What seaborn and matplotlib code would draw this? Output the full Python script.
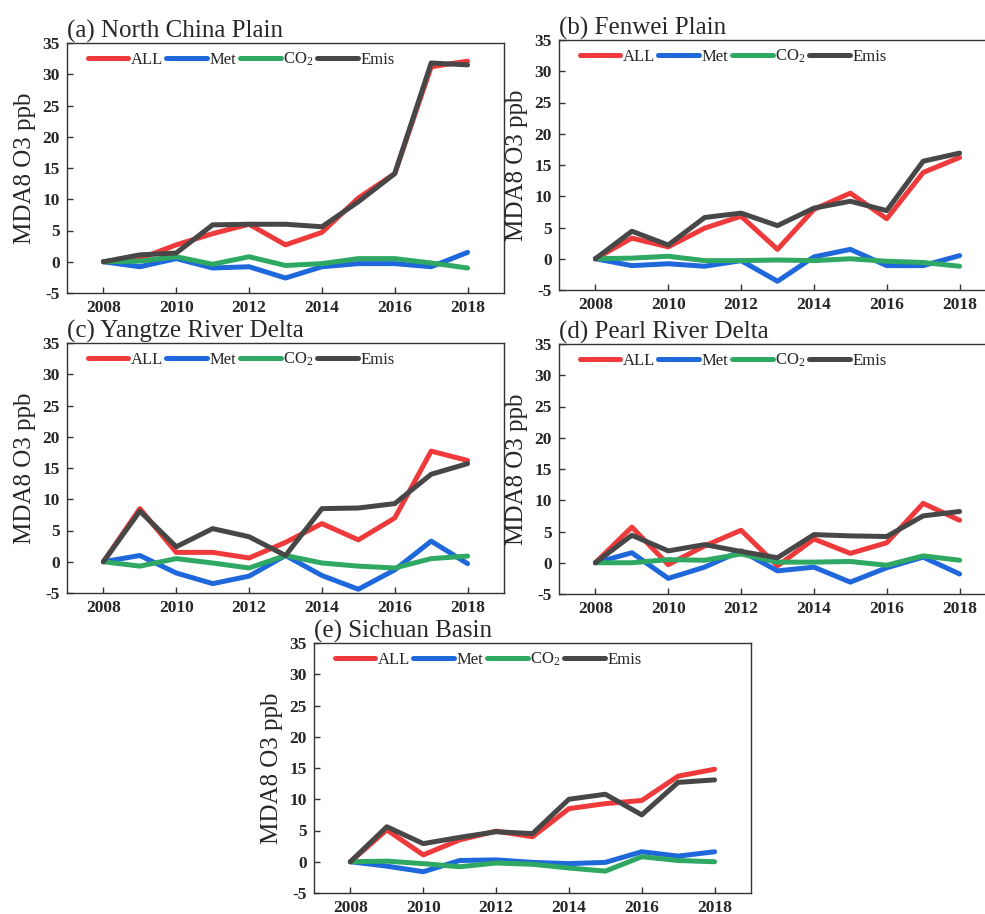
import matplotlib
matplotlib.use("Agg")
import matplotlib.pyplot as plt
import pandas as pd
import seaborn as sns

# ---- data: MDA8 O3 change relative to 2008 (ppb) ----
years = list(range(2008, 2019))
series_names = ["ALL", "Met", "CO$_2$", "Emis"]
series_colors = ["#ef3a3c", "#1e68dc", "#2ea862", "#474747"]

ncp_all = [0, 0.5, 2.7, 4.5, 6.0, 2.7, 4.7, 10.2, 14.1, 31.2, 32.1]
ncp_met = [0, -0.8, 0.5, -1.0, -0.8, -2.6, -0.8, -0.3, -0.3, -0.8, 1.5]
ncp_co2 = [0, 0.1, 0.8, -0.4, 0.8, -0.6, -0.3, 0.5, 0.5, -0.2, -1.0]
ncp_emis = [0, 1.1, 1.4, 5.9, 6.0, 6.0, 5.6, 9.6, 14.1, 31.8, 31.5]

fwp_all = [0, 3.3, 1.9, 4.9, 6.8, 1.5, 7.9, 10.5, 6.4, 13.8, 16.2]
fwp_met = [0, -1.1, -0.8, -1.2, -0.3, -3.6, 0.3, 1.5, -1.1, -1.1, 0.5]
fwp_co2 = [0, 0.1, 0.4, -0.3, -0.3, -0.2, -0.3, 0.0, -0.4, -0.6, -1.2]
fwp_emis = [0, 4.4, 2.2, 6.6, 7.3, 5.3, 8.1, 9.2, 7.7, 15.6, 16.9]

yrd_all = [0, 8.5, 1.5, 1.5, 0.6, 3.1, 6.1, 3.5, 7.0, 17.7, 16.2]
yrd_met = [0, 1.0, -1.8, -3.5, -2.3, 1.0, -2.2, -4.4, -1.3, 3.3, -0.3]
yrd_co2 = [0, -0.7, 0.5, -0.2, -1.0, 1.0, -0.2, -0.7, -1.0, 0.5, 0.9]
yrd_emis = [0, 8.1, 2.4, 5.3, 4.0, 1.0, 8.5, 8.6, 9.3, 14.0, 15.7]

prd_all = [0, 5.7, -0.3, 2.7, 5.2, -0.5, 3.8, 1.5, 3.2, 9.5, 6.8]
prd_met = [0, 1.6, -2.5, -0.7, 1.9, -1.3, -0.7, -3.1, -0.8, 0.9, -1.8]
prd_co2 = [0, 0.0, 0.5, 0.4, 1.4, 0.1, 0.1, 0.2, -0.4, 1.1, 0.4]
prd_emis = [0, 4.4, 1.9, 2.9, 1.8, 0.8, 4.5, 4.3, 4.2, 7.5, 8.2]

scb_all = [0, 5.1, 1.1, 3.5, 4.9, 4.0, 8.5, 9.3, 9.8, 13.7, 14.8]
scb_met = [0, -0.7, -1.6, 0.2, 0.3, -0.1, -0.3, -0.1, 1.6, 0.9, 1.6]
scb_co2 = [0, 0.1, -0.3, -0.8, -0.2, -0.4, -1.0, -1.5, 0.8, 0.2, 0.0]
scb_emis = [0, 5.6, 2.9, 3.9, 4.8, 4.5, 10.0, 10.8, 7.5, 12.7, 13.1]

panel_titles = ["(a) North China Plain", "(b) Fenwei Plain", "(c) Yangtze River Delta",
                "(d) Pearl River Delta", "(e) Sichuan Basin"]
panel_series = [
    [ncp_all, ncp_met, ncp_co2, ncp_emis],
    [fwp_all, fwp_met, fwp_co2, fwp_emis],
    [yrd_all, yrd_met, yrd_co2, yrd_emis],
    [prd_all, prd_met, prd_co2, prd_emis],
    [scb_all, scb_met, scb_co2, scb_emis],
]
x_ticks = [2008, 2010, 2012, 2014, 2016, 2018]
y_ticks = [-5, 0, 5, 10, 15, 20, 25, 30, 35]

# ---- style ----
sns.set_theme(style="ticks")
plt.rcParams["font.family"] = ["Liberation Serif", "DejaVu Serif"]
plt.rcParams["mathtext.fontset"] = "custom"
plt.rcParams["mathtext.rm"] = "Liberation Serif"
plt.rcParams["mathtext.it"] = "Liberation Serif:italic"
plt.rcParams["axes.unicode_minus"] = False

W, H = 985, 914
fig = plt.figure(figsize=(W / 100, H / 100), dpi=100)

# panel boxes in pixels: left, top, right, bottom
boxes = [
    (67, 43, 504, 293),
    (559, 40, 996, 290),
    (67, 343, 504, 593),
    (559, 344, 996, 594),
    (314, 643, 751, 893),
]

for title, series, (l, t, r, b) in zip(panel_titles, panel_series, boxes):
    ax = fig.add_axes([l / W, 1 - b / H, (r - l) / W, (b - t) / H])
    df = pd.DataFrame({
        "year": years * len(series_names),
        "value": [v for s in series for v in s],
        "series": [n for n in series_names for _ in years],
    })
    sns.lineplot(data=df, x="year", y="value", hue="series",
                 hue_order=series_names, palette=series_colors,
                 linewidth=3.6, ax=ax)
    ax.set_xlim(2007, 2019)
    ax.set_ylim(-5, 35)
    ax.set_xticks(x_ticks)
    ax.set_xticklabels([str(v) for v in x_ticks], fontweight="bold", fontsize=12.5)
    ax.set_yticks(y_ticks)
    ax.set_yticklabels([str(v) for v in y_ticks], fontweight="bold", fontsize=12.5)
    ax.tick_params(direction="in", length=4, width=1, color="#333333")
    ax.tick_params(axis="x", pad=5)
    ax.tick_params(axis="y", pad=5)
    for sp in ax.spines.values():
        sp.set_visible(True)
        sp.set_color("#333333")
        sp.set_linewidth(1.0)
    ax.set_xlabel("")
    ax.set_ylabel("MDA8 O3 ppb", fontsize=18, labelpad=5)
    ax.set_title(title, loc="left", fontsize=18, pad=4)

    handles, labels = ax.get_legend_handles_labels()
    for h in handles:
        h.set_solid_capstyle("round")
    ax.legend(handles, labels, loc="upper left", bbox_to_anchor=(0.047, 0.968),
              ncol=4, frameon=False, fontsize=12, handlelength=2.45,
              handletextpad=0.15, columnspacing=0.2, borderaxespad=0,
              borderpad=0)

fig.savefig("out.png", dpi=100)
